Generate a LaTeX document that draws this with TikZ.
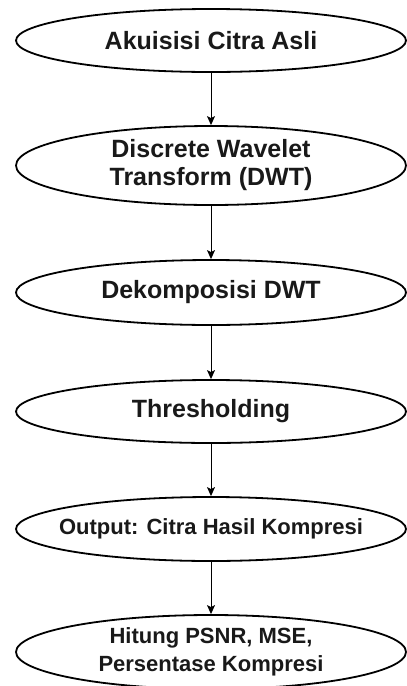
\documentclass[tikz,border=0pt]{standalone}
\usepackage{fontspec}
\setmainfont{Liberation Sans}
\usetikzlibrary{shapes.geometric,arrows.meta}
\tikzset{
  proc/.style={ellipse, draw=black, line width=1.8pt, inner sep=0pt,
    minimum width=390pt, align=center, text=black!90,
    font=\bfseries\fontsize{25}{28}\selectfont},
  small/.style={font=\bfseries\fontsize{22}{28}\selectfont, inner xsep=-20pt},
  arr/.style={-{Stealth[length=9pt,width=8pt,inset=2pt]}, line width=1pt, draw=black}
}
\begin{document}
\begin{tikzpicture}[x=1pt,y=-1pt]
\useasboundingbox (0,0) rectangle (407,686);
\node[proc, minimum height=63pt] (e1) at (211,40.5) {Akuisisi Citra Asli};
\node[proc, minimum height=79pt] (e2) at (211,165.5) {Discrete Wavelet\\Transform (DWT)};
\node[proc, minimum height=65pt] (e3) at (211,292.5) {Dekomposisi DWT};
\node[proc, minimum height=63pt] (e4) at (211,411.5) {Thresholding};
\node[proc, small, minimum height=64pt] (e5) at (211,529) {Output: Citra Hasil Kompresi};
\node[proc, small, minimum height=74pt] (e6) at (211,652) {Hitung PSNR, MSE,\\Persentase Kompresi};
\draw[arr] (e1) -- (e2);
\draw[arr] (e2) -- (e3);
\draw[arr] (e3) -- (e4);
\draw[arr] (e4) -- (e5);
\draw[arr] (e5) -- (e6);
\end{tikzpicture}
\end{document}
